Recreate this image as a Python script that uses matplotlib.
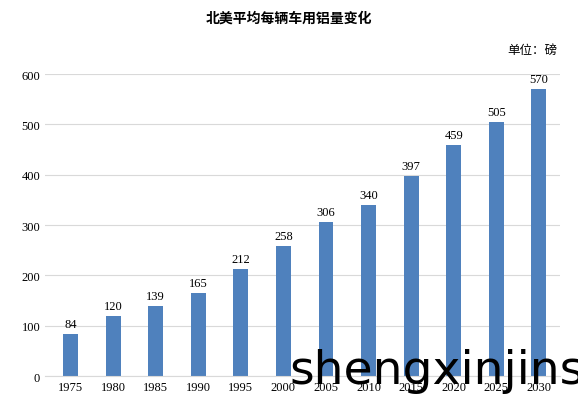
import matplotlib
matplotlib.use("Agg")
import matplotlib.pyplot as plt

years = ["1975", "1980", "1985", "1990", "1995", "2000", "2005", "2010", "2015", "2020", "2025", "2030"]
pounds = [84, 120, 139, 165, 212, 258, 306, 340, 397, 459, 505, 570]

plt.rcParams["font.family"] = ["Liberation Serif", "Noto Sans CJK SC"]

fig = plt.figure(figsize=(5.78, 4.06), dpi=100)
ax = fig.add_axes([0.078, 0.071, 0.891, 0.744])
x = range(len(years))
ax.bar(x, pounds, width=0.35, color="#4f81bd", zorder=2)
for xi, v in zip(x, pounds):
    ax.text(xi, v + 8, str(v), ha="center", va="bottom", fontsize=9)

ax.set_ylim(0, 600)
ax.set_yticks(range(0, 601, 100))
ax.set_xlim(-0.6, len(years) - 0.5)
ax.set_xticks(list(x))
ax.set_xticklabels(years)
ax.tick_params(axis="both", length=0, labelsize=9)
ax.grid(axis="y", color="#d9d9d9", linewidth=0.8, zorder=0)
for s in ["top", "right", "left"]:
    ax.spines[s].set_visible(False)
ax.spines["bottom"].set_color("#d9d9d9")

fig.text(0.5, 0.955, "北美平均每辆车用铝量变化", ha="center", va="center",
         fontsize=10, fontweight="bold", family=["Noto Sans CJK SC"])
fig.text(0.965, 0.875, "单位：磅", ha="right", va="center", fontsize=9,
         family=["Noto Sans CJK SC"])
fig.text(0.50, 0.055, "shengxinjins", ha="left", va="baseline", fontsize=34,
         family=["DejaVu Sans"], color="black")

fig.savefig("out.png", dpi=100)
